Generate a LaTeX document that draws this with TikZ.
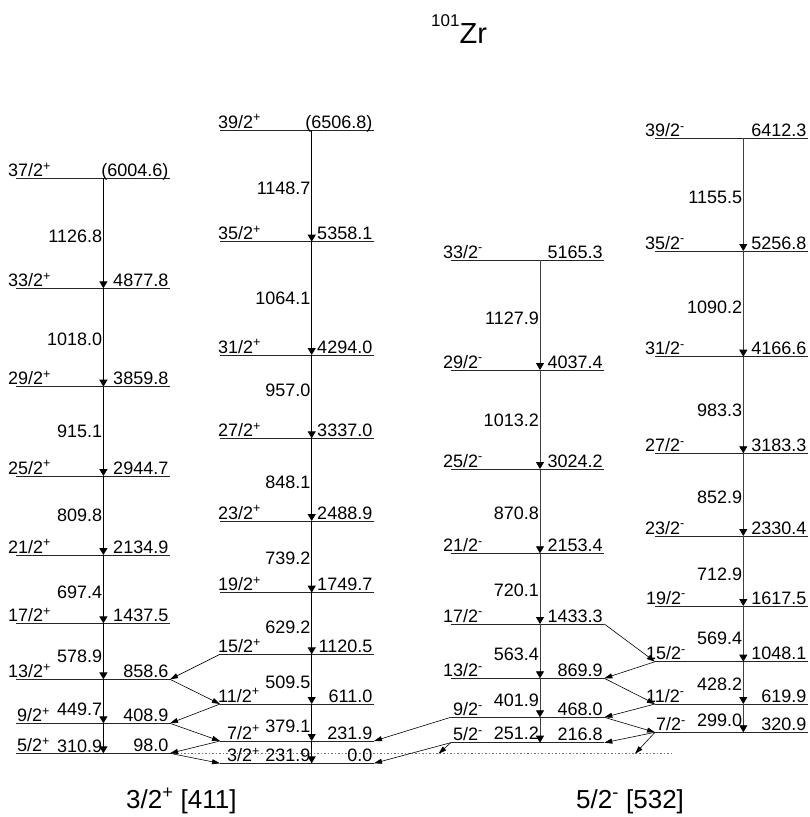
\documentclass[tikz,border=0pt]{standalone}
\usepackage{fontspec}
\setmainfont{Liberation Sans}
\usetikzlibrary{arrows.meta}
\newcommand\lbl{\fontsize{18}{20}\selectfont}
% #1 name, #2 x left, #3 x right, #4 x of vertical, #5 y, #6 spin, #7 spin x, #8 energy
\newcommand\Lvl[8]{%
  \coordinate (#1L) at (#2,#5);
  \coordinate (#1R) at (#3,#5);
  \coordinate (#1V) at (#4,#5);
  \draw[lvl] (#1L) -- (#1R);
  \node[spin] (#1s) at (#7,#5-2) {#6};
  \node[ener] (#1e) at (#3-1.5,#5-2) {#8};
}
% #1 name, #2 x, #3 y, #4 text
\newcommand\Tlab[4]{\node[tlab] (#1) at (#2-1,#3) {#4};}
\newcommand\pl{\textsuperscript{+}}
\newcommand\mi{\textsuperscript{-}}
\begin{document}
\begin{tikzpicture}[x=1pt,y=-1pt,
  lvl/.style={line width=0.9pt,black!85},
  spin/.style={anchor=base west,inner sep=0pt,font=\lbl},
  ener/.style={anchor=base east,inner sep=0pt,font=\lbl},
  tlab/.style={anchor=east,inner sep=0pt,font=\lbl},
  vA/.style={line width=1.2pt,-{Triangle[width=8pt,length=7pt]}},
  vC/.style={line width=0.8pt,black!75,-{Triangle[width=8pt,length=7pt,color=black]}},
  xtr/.style={line width=0.6pt,-{Triangle[width=5pt,length=8pt]}},
  dot/.style={line width=1pt,black!55,dash pattern=on 1.5pt off 2pt},
  band/.style={anchor=base west,inner sep=0pt,font=\fontsize{26}{28}\selectfont},
]
\useasboundingbox (0,0) rectangle (809,817);

% dotted reference line
\coordinate (dotS) at (170,753.8);
\coordinate (dotE) at (673,753.8);
\coordinate (dotC) at (438.5,753.8);
\coordinate (dotD) at (635,753.8);
\draw[dot] (dotS) -- (dotE);

% title
\node[anchor=base west,inner sep=0pt] (title) at (431,43.3)
  {\raisebox{17pt}{\fontsize{17}{18}\selectfont 101}\fontsize{29}{30}\selectfont Zr};

% Column A
\Lvl{A37}{16}{170}{103.4}{178.3}{37/2\pl}{8}{(6004.6)}
\Lvl{A33}{16}{170}{103.4}{288.3}{33/2\pl}{8}{4877.8}
\Lvl{A29}{16}{170}{103.4}{386.7}{29/2\pl}{8}{3859.8}
\Lvl{A25}{16}{170}{103.4}{476}{25/2\pl}{8}{2944.7}
\Lvl{A21}{16}{170}{103.4}{555}{21/2\pl}{8}{2134.9}
\Lvl{A17}{16}{170}{103.4}{623.3}{17/2\pl}{8}{1437.5}
\Lvl{A13}{16}{170}{103.4}{679.3}{13/2\pl}{8}{858.6}
\Lvl{A9}{16}{170}{103.4}{723.3}{9/2\pl}{17}{408.9}
\Lvl{A5}{16}{170}{103.4}{753.3}{5/2\pl}{17}{98.0}
\draw[vA] (A37V) -- (A33V);
\draw[vA] (A33V) -- (A29V);
\draw[vA] (A29V) -- (A25V);
\draw[vA] (A25V) -- (A21V);
\draw[vA] (A21V) -- (A17V);
\draw[vA] (A17V) -- (A13V);
\draw[vA] (A13V) -- (A9V);
\draw[vA] (A9V) -- (A5V);
\Tlab{tA1}{103.4}{236}{1126.8}
\Tlab{tA2}{103.4}{339}{1018.0}
\Tlab{tA3}{103.4}{431}{915.1}
\Tlab{tA4}{103.4}{515}{809.8}
\Tlab{tA5}{103.4}{592.5}{697.4}
\Tlab{tA6}{103.4}{656.5}{578.9}
\Tlab{tA7}{103.4}{709}{449.7}
\Tlab{tA8}{103.4}{746.5}{310.9}

% Column B
\Lvl{B39}{220}{374}{311.7}{130}{39/2\pl}{218}{(6506.8)}
\Lvl{B35}{220}{374}{311.7}{241.7}{35/2\pl}{218}{5358.1}
\Lvl{B31}{220}{374}{311.7}{355}{31/2\pl}{218}{4294.0}
\Lvl{B27}{220}{374}{311.7}{438.3}{27/2\pl}{218}{3337.0}
\Lvl{B23}{220}{374}{311.7}{521}{23/2\pl}{218}{2488.9}
\Lvl{B19}{220}{374}{311.7}{592.7}{19/2\pl}{218}{1749.7}
\Lvl{B15}{220}{374}{311.7}{654.3}{15/2\pl}{218}{1120.5}
\Lvl{B11}{220}{374}{311.7}{704}{11/2\pl}{218}{611.0}
\Lvl{B7}{220}{374}{311.7}{741}{7/2\pl}{227}{231.9}
\Lvl{B3}{220}{374}{311.7}{763.3}{3/2\pl}{227}{0.0}
\draw[vA] (B39V) -- (B35V);
\draw[vA] (B35V) -- (B31V);
\draw[vA] (B31V) -- (B27V);
\draw[vA] (B27V) -- (B23V);
\draw[vA] (B23V) -- (B19V);
\draw[vA] (B19V) -- (B15V);
\draw[vA] (B15V) -- (B11V);
\draw[vA] (B11V) -- (B7V);
\draw[vA] (B7V) -- (B3V);
\Tlab{tB1}{311.7}{188}{1148.7}
\Tlab{tB2}{311.7}{298}{1064.1}
\Tlab{tB3}{311.7}{390}{957.0}
\Tlab{tB4}{311.7}{482}{848.1}
\Tlab{tB5}{311.7}{558}{739.2}
\Tlab{tB6}{311.7}{627}{629.2}
\Tlab{tB7}{311.7}{682}{509.5}
\Tlab{tB8}{311.7}{726}{379.1}
\Tlab{tB9}{311.7}{755}{231.9}

% Column C
\Lvl{C33}{450.7}{604.3}{540}{260}{33/2\mi}{443}{5165.3}
\Lvl{C29}{450.7}{604.3}{540}{370}{29/2\mi}{443}{4037.4}
\Lvl{C25}{450.7}{604.3}{540}{469}{25/2\mi}{443}{3024.2}
\Lvl{C21}{450.7}{604.3}{540}{553.3}{21/2\mi}{443}{2153.4}
\Lvl{C17}{450.7}{604.3}{540}{624}{17/2\mi}{443}{1433.3}
\Lvl{C13}{450.7}{604.3}{540}{678.3}{13/2\mi}{443}{869.9}
\Lvl{C9}{450.7}{604.3}{540}{717.3}{9/2\mi}{453}{468.0}
\Lvl{C5}{450.7}{604.3}{540}{742.7}{5/2\mi}{453}{216.8}
\draw[vC] (C33V) -- (C29V);
\draw[vC] (C29V) -- (C25V);
\draw[vC] (C25V) -- (C21V);
\draw[vC] (C21V) -- (C17V);
\draw[vC] (C17V) -- (C13V);
\draw[vC] (C13V) -- (C9V);
\draw[vC] (C9V) -- (C5V);
\Tlab{tC1}{540}{318}{1127.9}
\Tlab{tC2}{540}{420}{1013.2}
\Tlab{tC3}{540}{513}{870.8}
\Tlab{tC4}{540}{590.7}{720.1}
\Tlab{tC5}{540}{654}{563.4}
\Tlab{tC6}{540}{700}{401.9}
\Tlab{tC7}{540}{733.5}{251.2}

% Column D
\Lvl{D39}{655}{808}{743.3}{138.3}{39/2\mi}{645}{6412.3}
\Lvl{D35}{655}{808}{743.3}{251}{35/2\mi}{645}{5256.8}
\Lvl{D31}{655}{808}{743.3}{356.7}{31/2\mi}{645}{4166.6}
\Lvl{D27}{655}{808}{743.3}{453.3}{27/2\mi}{645}{3183.3}
\Lvl{D23}{655}{808}{743.3}{536}{23/2\mi}{645}{2330.4}
\Lvl{D19}{655}{808}{743.3}{606}{19/2\mi}{646}{1617.5}
\Lvl{D15}{655}{808}{743.3}{661.7}{15/2\mi}{646}{1048.1}
\Lvl{D11}{655}{808}{743.3}{704}{11/2\mi}{646}{619.9}
\Lvl{D7}{655}{808}{743.3}{732.3}{7/2\mi}{656}{320.9}
\draw[vC] (D39V) -- (D35V);
\draw[vC] (D35V) -- (D31V);
\draw[vC] (D31V) -- (D27V);
\draw[vC] (D27V) -- (D23V);
\draw[vC] (D23V) -- (D19V);
\draw[vC] (D19V) -- (D15V);
\draw[vC] (D15V) -- (D11V);
\draw[vC] (D11V) -- (D7V);
\Tlab{tD1}{743.3}{197}{1155.5}
\Tlab{tD2}{743.3}{307}{1090.2}
\Tlab{tD3}{743.3}{410}{983.3}
\Tlab{tD4}{743.3}{497}{852.9}
\Tlab{tD5}{743.3}{574}{712.9}
\Tlab{tD6}{743.3}{638}{569.4}
\Tlab{tD7}{743.3}{684}{428.2}
\Tlab{tD8}{743.3}{720.5}{299.0}

% cross-band transitions, positive parity
\draw[xtr] (B15L) -- (A13R);
\draw[xtr] (A13R) -- (B11L);
\draw[xtr] (B11L) -- (A9R);
\draw[xtr] (A9R) -- (B7L);
\draw[xtr] (B7L) -- (A5R);
\draw[xtr] (A5R) -- (B3L);
% interband
\draw[xtr] (C9L) -- (B7R);
\draw[xtr] (C5L) -- (B3R);
\draw[xtr] (C5L) -- (dotC);
% negative parity
\draw[xtr] (C17R) -- (D15L);
\draw[xtr] (D15L) -- (C13R);
\draw[xtr] (C13R) -- (D11L);
\draw[xtr] (D11L) -- (C9R);
\draw[xtr] (C9R) -- (D7L);
\draw[xtr] (D7L) -- (C5R);
\draw[xtr] (D7L) -- (dotD);

% band labels
\node[band] (bandA) at (126,808) {3/2\pl\ [411]};
\node[band] (bandC) at (576,808) {5/2\mi\ [532]};
\end{tikzpicture}
\end{document}
